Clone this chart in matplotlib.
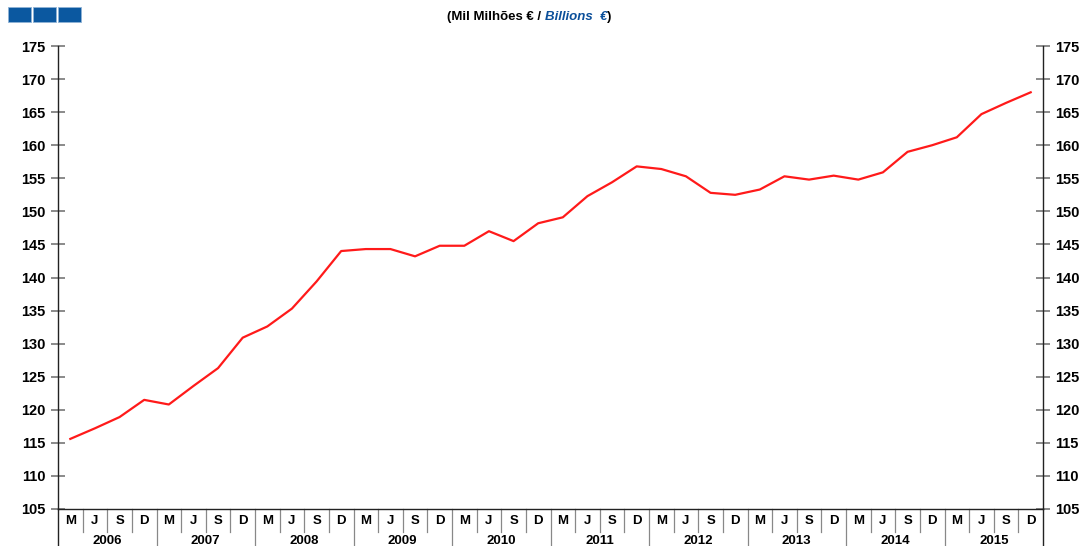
import numpy as np
import matplotlib.pyplot as plt
from matplotlib.patches import Rectangle

plt.rcParams['font.family'] = ['Liberation Sans', 'DejaVu Sans']

years = ['2006', '2007', '2008', '2009', '2010', '2011', '2012', '2013', '2014', '2015']
quarters = ['M', 'J', 'S', 'D']

# quarterly values, mil milhões de euros
values = [115.6, 117.2, 118.9, 121.5, 120.8, 123.6, 126.3, 130.9,
          132.6, 135.3, 139.4, 144.0, 144.3, 144.3, 143.2, 144.8,
          144.8, 147.0, 145.5, 148.2, 149.1, 152.3, 154.4, 156.8,
          156.4, 155.3, 152.8, 152.5, 153.3, 155.3, 154.8, 155.4,
          154.8, 155.9, 159.0, 160.0, 161.2, 164.7, 166.4, 168.0]

W, H = 1085, 546
fig = plt.figure(figsize=(W / 100, H / 100), dpi=100)
ax = fig.add_axes([58 / W, (H - 509) / H, (1043 - 58) / W, (509 - 46) / H])

n = len(values)
x = np.arange(n) + 0.5
ax.plot(x, values, color='#ff1a1a', lw=1.6)

ax.set_xlim(0, n)
ax.set_ylim(105, 175)
ax.set_yticks(np.arange(105, 176, 5))
ax.set_xticks([])
ax.spines['top'].set_visible(False)
for s in ['left', 'right', 'bottom']:
    ax.spines[s].set_color('#222222')
    ax.spines[s].set_linewidth(1.0)
ax.tick_params(axis='y', left=True, right=True, labelleft=True, labelright=True,
               direction='inout', length=10, width=1.2, color='#777777', pad=4,
               labelsize=10.5)
for lab in ax.get_yticklabels():
    lab.set_fontweight('bold')

# category strip below the axis
t = ax.transAxes
sep_q = 23 / 463
sep_y = 40 / 463
for i in range(n):
    ax.text((i + 0.5) / n, -12 / 463, quarters[i % 4], transform=t,
            ha='center', va='center', fontsize=9.5, fontweight='bold')
    if i > 0:
        h = sep_y if i % 4 == 0 else sep_q
        ax.plot([i / n, i / n], [0, -h], transform=t, color='#888888',
                lw=0.9, clip_on=False)
for j, yr in enumerate(years):
    ax.text((j * 4 + 2) / n, -32 / 463, yr, transform=t,
            ha='center', va='center', fontsize=9.5, fontweight='bold')
for xe in [0, 1]:
    ax.plot([xe, xe], [0, -sep_y], transform=t, color='#222222', lw=1.0,
            clip_on=False)

# header: blue blocks and unit label
for k in range(3):
    fig.patches.append(Rectangle(((8 + k * 25) / W, (H - 22) / H), 23 / W, 15 / H,
                                 transform=fig.transFigure, facecolor='#0b58a0',
                                 edgecolor='#8fb3d6', lw=0.6))
t1 = fig.text(447 / W, (H - 17) / H, '(Mil Milhões € / ', fontsize=9.5,
              fontweight='bold', va='center', ha='left')
fig.canvas.draw()
bb = t1.get_window_extent()
t2 = fig.text(bb.x1 / W, (H - 17) / H, 'Billions  €', fontsize=9.5, fontweight='bold',
              style='italic', color='#0b4f9a', va='center', ha='left')
bb2 = t2.get_window_extent()
fig.text(bb2.x1 / W, (H - 17) / H, ')', fontsize=9.5, fontweight='bold',
         va='center', ha='left')

fig.savefig('out.png', dpi=100)
